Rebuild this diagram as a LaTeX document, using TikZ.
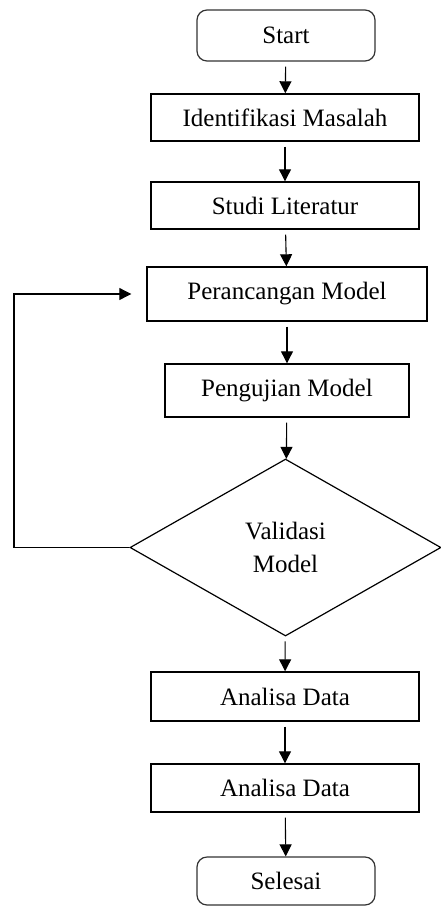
\documentclass[tikz,border=0pt]{standalone}
\usepackage{fontspec}
\setmainfont{Liberation Serif}
\usetikzlibrary{shapes.geometric,arrows.meta}
\begin{document}
\begin{tikzpicture}[x=1pt,y=1pt,
  box/.style={draw, line width=1.4pt, inner sep=0pt, font=\fontsize{25}{33}\selectfont},
  term/.style={box, rounded corners=10pt, line width=1.2pt, draw=black!80},
  arr/.style={-{Triangle[length=12pt,width=12pt]}, line width=1.1pt, shorten <=5pt},
  loopline/.style={-{Triangle[length=12pt,width=12pt]}, line width=1.1pt, shorten >=15pt},
]
\useasboundingbox (0,0) rectangle (441,-906);
\node[term, minimum width=178pt, minimum height=51pt] (start) at (286,-35.5) {Start};
\node[box, minimum width=268pt, minimum height=47pt] (ident) at (285,-117.5) {Identifikasi Masalah};
\node[box, minimum width=268pt, minimum height=47pt] (studi) at (285,-205.5) {Studi Literatur};
\node[box, minimum width=280pt, minimum height=54pt] (per) at (287,-294) {Perancangan Model};
\node[box, minimum width=244pt, minimum height=53pt] (uji) at (287,-390.5) {Pengujian Model};
\node[box, diamond, line width=1.2pt, minimum width=311pt, minimum height=177pt, align=center] (dia) at (285.5,-547.5) {Validasi\\Model};
\node[box, minimum width=268pt, minimum height=49pt] (ana1) at (285,-696.5) {Analisa Data};
\node[box, minimum width=268pt, minimum height=48pt] (ana2) at (285,-788) {Analisa Data};
\node[term, minimum width=178pt, minimum height=48pt] (end) at (286,-881) {Selesai};
\coordinate (lp) at (14,-294);
\draw[arr] (start) -- (ident);
\draw[arr] (ident) -- (studi);
\draw[arr] (studi) -- (per);
\draw[arr] (per) -- (uji);
\draw[arr] (uji) -- (dia);
\draw[arr] (dia) -- (ana1);
\draw[arr] (ana1) -- (ana2);
\draw[arr] (ana2) -- (end);
\draw[loopline] (dia.west) -| (lp) -- (per.west);
\end{tikzpicture}
\end{document}
